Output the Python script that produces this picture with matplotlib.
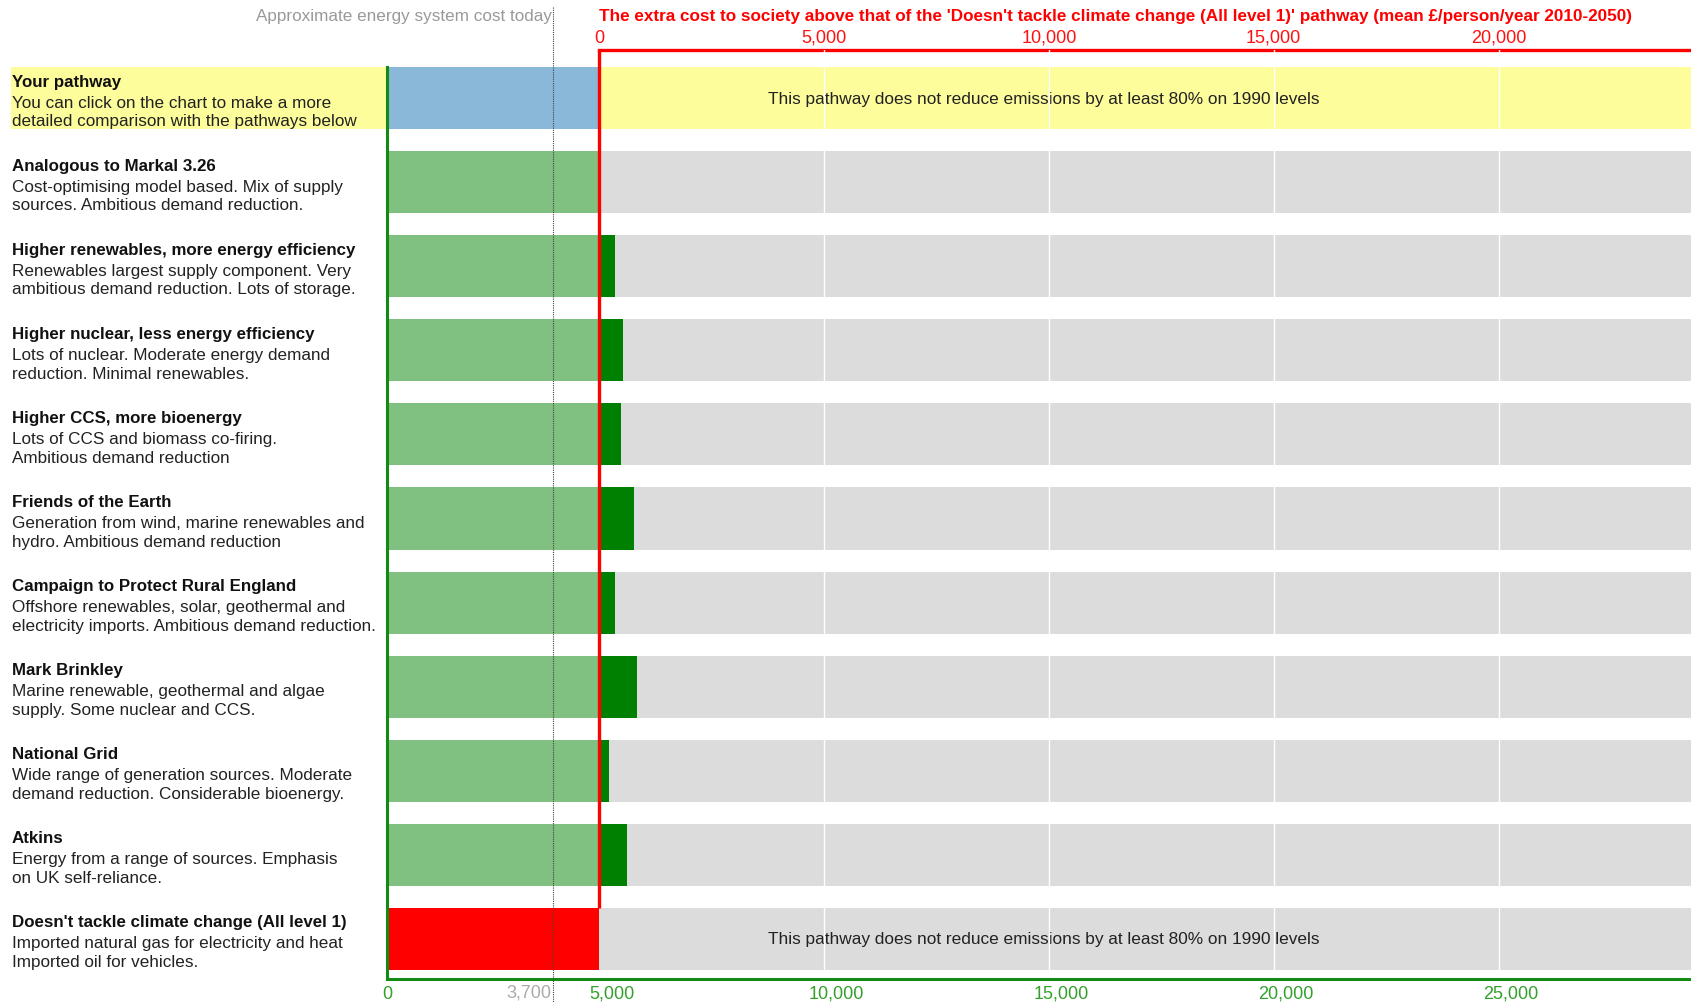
import numpy as np
import matplotlib.pyplot as plt
import matplotlib.transforms as mtransforms
from matplotlib.patches import Rectangle

plt.rcParams['font.family'] = ['Liberation Sans', 'DejaVu Sans']

# pathway data (mean £/person/year 2010-2050)
names = ["Your pathway", "Analogous to Markal 3.26",
         "Higher renewables, more energy efficiency",
         "Higher nuclear, less energy efficiency", "Higher CCS, more bioenergy",
         "Friends of the Earth", "Campaign to Protect Rural England",
         "Mark Brinkley", "National Grid", "Atkins",
         "Doesn't tackle climate change (All level 1)"]
desc_line1 = ["You can click on the chart to make a more",
              "Cost-optimising model based. Mix of supply",
              "Renewables largest supply component. Very",
              "Lots of nuclear. Moderate energy demand",
              "Lots of CCS and biomass co-firing.",
              "Generation from wind, marine renewables and",
              "Offshore renewables, solar, geothermal and",
              "Marine renewable, geothermal and algae",
              "Wide range of generation sources. Moderate",
              "Energy from a range of sources. Emphasis",
              "Imported natural gas for electricity and heat"]
desc_line2 = ["detailed comparison with the pathways below",
              "sources. Ambitious demand reduction.",
              "ambitious demand reduction. Lots of storage.",
              "reduction. Minimal renewables.",
              "Ambitious demand reduction",
              "hydro. Ambitious demand reduction",
              "electricity imports. Ambitious demand reduction.",
              "supply. Some nuclear and CCS.",
              "demand reduction. Considerable bioenergy.",
              "on UK self-reliance.",
              "Imported oil for vehicles."]
costs = [4700, 4690, 5080, 5250, 5210, 5490, 5070, 5560, 4930, 5330, 4720]
fails_target = [True, False, False, False, False, False, False, False, False, False, True]
cost_today = 3700
bottom_ticks = [0, 5000, 10000, 15000, 20000, 25000]
top_ticks = [0, 5000, 10000, 15000, 20000]
x_max = 29000

baseline = costs[-1]
GREEN_LIGHT = "#80c080"
GREEN_DARK = "#008000"
GRAY = "#dcdcdc"
YELLOW = "#fdfd9b"
BLUE = "#8ab8d9"
AXIS_GREEN = "#138a13"
TICK_GREEN = "#33a02c"

fig = plt.figure(figsize=(16.91, 10.03), dpi=100)
W, H = 1691, 1003
ax = fig.add_axes([387 / W, (H - 980) / H, 1 - 387 / W, (980 - 51) / H])
ax.set_xlim(0, x_max)
ax.set_ylim(10.48, -0.575)

n = len(names)
rows = np.arange(n)
bh = 0.738

# yellow highlight for "your pathway" row, reaching into the label column
row_tr = mtransforms.blended_transform_factory(fig.transFigure, ax.transData)
ax.add_patch(Rectangle((11 / W, rows[0] - bh / 2), 1 - 11 / W, bh, transform=row_tr,
                       facecolor=YELLOW, edgecolor='none', clip_on=False, zorder=0))

for i in rows:
    c = costs[i]
    if i == 0:
        ax.barh(i, c, height=bh, color=BLUE, zorder=2)
        continue
    ax.barh(i, x_max - baseline, left=baseline, height=bh, color=GRAY, zorder=1)
    if i == n - 1:
        ax.barh(i, c, height=bh, color="#ff0000", zorder=2)
        continue
    ax.barh(i, min(c, baseline), height=bh, color=GREEN_LIGHT, zorder=2)
    if c > baseline:
        ax.barh(i, c - baseline, left=baseline, height=bh, color=GREEN_DARK, zorder=2)

# bottom (absolute cost) axis
for s in ['top', 'right']:
    ax.spines[s].set_visible(False)
ax.spines['bottom'].set_color(AXIS_GREEN)
ax.spines['bottom'].set_linewidth(2.2)
ax.spines['left'].set_color(AXIS_GREEN)
ax.spines['left'].set_linewidth(2.2)
ax.spines['left'].set_bounds(10.48, -bh / 2)
ax.set_yticks([])
ax.set_xticks(bottom_ticks)
ax.set_xticklabels([f"{t:,}" for t in bottom_ticks])
ax.tick_params(axis='x', length=0, pad=4, labelsize=13, labelcolor=TICK_GREEN)

# cost today dotted marker
vert_tr = mtransforms.blended_transform_factory(ax.transData, fig.transFigure)
ax.plot([cost_today, cost_today], [1 - 8 / H, 0], transform=vert_tr, clip_on=False,
        color="#444444", lw=0.8, linestyle=(0, (1, 1)), zorder=6)
ax.text(cost_today - 40, 1 - 993 / H, f"{cost_today:,}", transform=vert_tr,
        ha='right', va='center', fontsize=13, color="#aaaaaa")
ax.text(cost_today - 40, 1 - 16 / H, "Approximate energy system cost today",
        transform=vert_tr, ha='right', va='center', fontsize=12.3, color="#999999")

# top (extra cost) axis
ax2 = ax.twiny()
ax2.set_xlim(0 - baseline, x_max - baseline)
ax2.set_ylim(ax.get_ylim())
for s in ['bottom', 'left', 'right']:
    ax2.spines[s].set_visible(False)
ax2.spines['top'].set_color("#ff0000")
ax2.spines['top'].set_linewidth(2.4)
ax2.spines['top'].set_bounds(0, x_max - baseline)
ax2.set_xticks(top_ticks)
ax2.set_xticklabels([f"{t:,}" for t in top_ticks])
ax2.tick_params(axis='x', length=0, pad=3, labelsize=13, labelcolor="#ff1111")
ax2.patch.set_visible(False)

for i in rows:
    if fails_target[i]:
        ax2.text(9880, i, "This pathway does not reduce emissions by at least 80% on 1990 levels",
                 ha='center', va='center', fontsize=12.4, color="#222222", zorder=2)

ax2.vlines(top_ticks[1:], -0.6, n - 1 + bh / 2, color="white", lw=1.0, zorder=3)
ax2.vlines(0, -0.575, n - 1 - bh / 2, color="#ff0000", lw=2.4, zorder=4)

top_tr = mtransforms.blended_transform_factory(ax2.transData, fig.transFigure)
ax2.text(0, 1 - 16 / H,
         "The extra cost to society above that of the 'Doesn't tackle climate change "
         "(All level 1)' pathway (mean £/person/year 2010-2050)",
         transform=top_tr, ha='left', va='center', fontsize=12.35,
         fontweight='bold', color="#ff0000")

# left-hand labels
for i in rows:
    ax.text(12 / W, i - 0.203, names[i], transform=row_tr, ha='left', va='center',
            fontsize=12.2, fontweight='bold', color="#111111")
    ax.text(12 / W, i + 0.051, desc_line1[i], transform=row_tr, ha='left', va='center',
            fontsize=12.3, color="#222222")
    ax.text(12 / W, i + 0.269, desc_line2[i], transform=row_tr, ha='left', va='center',
            fontsize=12.3, color="#222222")

fig.savefig("out.png", dpi=100)
